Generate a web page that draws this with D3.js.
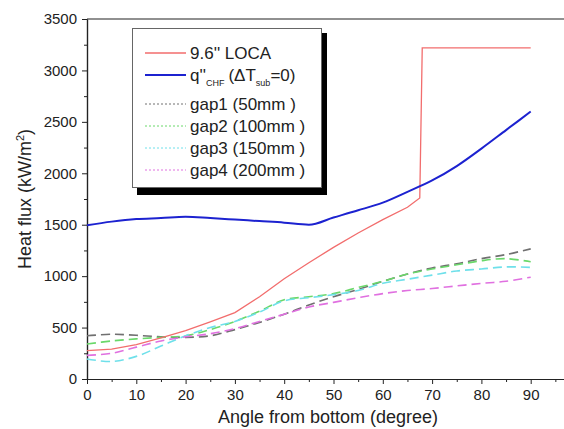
<!DOCTYPE html>
<html>
<head>
<meta charset="utf-8">
<script src="https://cdn.jsdelivr.net/npm/d3@7"></script>
<style>
  body { margin: 0; background: #fff; }
  text { font-family: "Liberation Sans", Arial, sans-serif; fill: #222; }
</style>
</head>
<body>
<svg width="564" height="429"></svg>
<script>
// angle (degree) and heat flux (kW/m2)
var angles = [0, 5, 10, 15, 20, 25, 30, 35, 40, 45, 50, 55, 60, 65, 70, 75, 80, 85, 90];
var chfValues = [1495, 1530, 1555, 1565, 1578, 1565, 1550, 1535, 1520, 1500, 1570, 1640, 1715, 1820, 1930, 2070, 2240, 2420, 2600];
var locaAngles = [0, 5, 10, 15, 20, 25, 30, 35, 40, 45, 50, 55, 60, 65, 67.5, 68, 90];
var locaValues = [275, 290, 335, 400, 470, 555, 645, 800, 975, 1130, 1280, 1420, 1550, 1670, 1760, 3220, 3220];
var gap1 = [420, 435, 425, 410, 405, 420, 480, 550, 630, 720, 800, 870, 950, 1020, 1080, 1120, 1170, 1210, 1265];
var gap2 = [340, 370, 390, 405, 420, 480, 560, 660, 770, 800, 830, 890, 950, 1020, 1070, 1110, 1150, 1170, 1140];
var gap3 = [195, 170, 220, 320, 420, 500, 560, 650, 760, 790, 820, 860, 930, 970, 1010, 1050, 1070, 1090, 1085];
var gap4 = [230, 250, 310, 370, 410, 440, 490, 560, 630, 700, 745, 790, 830, 860, 880, 905, 930, 950, 990];
var xTicks = [0, 10, 20, 30, 40, 50, 60, 70, 80, 90];
var yTicks = [0, 500, 1000, 1500, 2000, 2500, 3000, 3500];

var svg = d3.select("svg");

var x = d3.scaleLinear().domain([0, 100]).range([87, 580]);
var y = d3.scaleLinear().domain([0, 3500]).range([379, 19]);

// frame: top line
svg.append("line")
    .attr("x1", x(0)).attr("x2", 564)
    .attr("y1", y(3500)).attr("y2", y(3500))
    .attr("stroke", "#222").attr("stroke-width", 1.2);

// x axis
svg.append("g")
    .attr("transform", "translate(0," + y(0) + ")")
    .call(d3.axisBottom(x).tickValues(xTicks).tickSize(5).tickPadding(5).tickSizeOuter(0));
svg.append("g")
    .attr("transform", "translate(0," + y(0) + ")")
    .call(d3.axisBottom(x).tickValues(d3.range(5, 100, 10)).tickSize(3).tickFormat("").tickSizeOuter(0));

// y axis
svg.append("g")
    .attr("transform", "translate(" + x(0) + ",0)")
    .call(d3.axisLeft(y).tickValues(yTicks).tickFormat(d3.format("d")).tickSize(5).tickPadding(5).tickSizeOuter(0));
svg.append("g")
    .attr("transform", "translate(" + x(0) + ",0)")
    .call(d3.axisLeft(y).tickValues(d3.range(250, 3500, 500)).tickSize(3).tickFormat("").tickSizeOuter(0));

svg.selectAll(".domain").attr("stroke", "#222").attr("stroke-width", 1.2);
svg.selectAll(".tick line").attr("stroke", "#222");
svg.selectAll(".tick text").style("font-size", "15px").attr("fill", "#222");

svg.append("text")
    .attr("x", 328).attr("y", 423)
    .attr("text-anchor", "middle")
    .style("font-size", "18px")
    .text("Angle from bottom (degree)");

var yl = svg.append("text")
    .attr("transform", "translate(31,199) rotate(-90)")
    .attr("text-anchor", "middle")
    .style("font-size", "18px");
yl.append("tspan").text("Heat flux (kW/m");
yl.append("tspan").attr("dy", -7).style("font-size", "11px").text("2");
yl.append("tspan").attr("dy", 7).text(")");

// curves
var smooth = d3.line()
    .x(function(d) { return x(d[0]); })
    .y(function(d) { return y(d[1]); })
    .curve(d3.curveCatmullRom.alpha(0.5));
var straight = d3.line()
    .x(function(d) { return x(d[0]); })
    .y(function(d) { return y(d[1]); });

function zipAngles(vals) {
  return angles.map(function(a, i) { return [a, vals[i]]; });
}

var gaps = [
  {vals: gap1, color: "#707070", label: "gap1 (50mm )"},
  {vals: gap2, color: "#6ad86a", label: "gap2 (100mm )"},
  {vals: gap3, color: "#6fe0ea", label: "gap3 (150mm )"},
  {vals: gap4, color: "#e070e0", label: "gap4 (200mm )"}
];

gaps.forEach(function(g) {
  svg.append("path")
      .datum(zipAngles(g.vals))
      .attr("fill", "none")
      .attr("stroke", g.color)
      .attr("stroke-width", 1.6)
      .attr("stroke-dasharray", "9,5")
      .attr("d", smooth);
});

svg.append("path")
    .datum(locaAngles.map(function(a, i) { return [a, locaValues[i]]; }))
    .attr("fill", "none")
    .attr("stroke", "#f26d6d")
    .attr("stroke-width", 1.3)
    .attr("d", straight);

svg.append("path")
    .datum(zipAngles(chfValues))
    .attr("fill", "none")
    .attr("stroke", "#1c22d0")
    .attr("stroke-width", 2)
    .attr("d", d3.line()
      .x(function(d) { return x(d[0]); })
      .y(function(d) { return y(d[1]); })
      .curve(d3.curveMonotoneX));

// legend
var lg = svg.append("g");
lg.append("rect").attr("x", 137).attr("y", 33).attr("width", 190).attr("height", 162).attr("fill", "#000");
lg.append("rect").attr("x", 132.5).attr("y", 28.5).attr("width", 189).attr("height", 159)
    .attr("fill", "#fff").attr("stroke", "#666").attr("stroke-width", 1);

var rows = [
  {y: 53, color: "#f26d6d", w: 1.3, dash: null},
  {y: 75, color: "#1c22d0", w: 2, dash: null},
  {y: 104, color: "#707070", w: 1, dash: "2,2"},
  {y: 126, color: "#6ad86a", w: 1, dash: "2,2"},
  {y: 148, color: "#6fe0ea", w: 1, dash: "2,2"},
  {y: 170, color: "#e070e0", w: 1, dash: "2,2"}
];
rows.forEach(function(r) {
  lg.append("line")
      .attr("x1", 145).attr("x2", 186)
      .attr("y1", r.y).attr("y2", r.y)
      .attr("stroke", r.color)
      .attr("stroke-width", r.w)
      .attr("stroke-dasharray", r.dash);
});

lg.append("text").attr("x", 190).attr("y", rows[0].y + 6).style("font-size", "17px").text("9.6'' LOCA");
var q = lg.append("text").attr("x", 190).attr("y", rows[1].y + 6).style("font-size", "17px");
q.append("tspan").text("q''");
q.append("tspan").attr("dy", 5).style("font-size", "9px").text("CHF");
q.append("tspan").attr("dy", -5).attr("dx", 4).text("(\u0394T");
q.append("tspan").attr("dy", 5).style("font-size", "9px").text("sub");
q.append("tspan").attr("dy", -5).text("=0)");
gaps.forEach(function(g, i) {
  lg.append("text").attr("x", 190).attr("y", rows[i + 2].y + 6).style("font-size", "17px").text(g.label);
});
</script>
</body>
</html>
